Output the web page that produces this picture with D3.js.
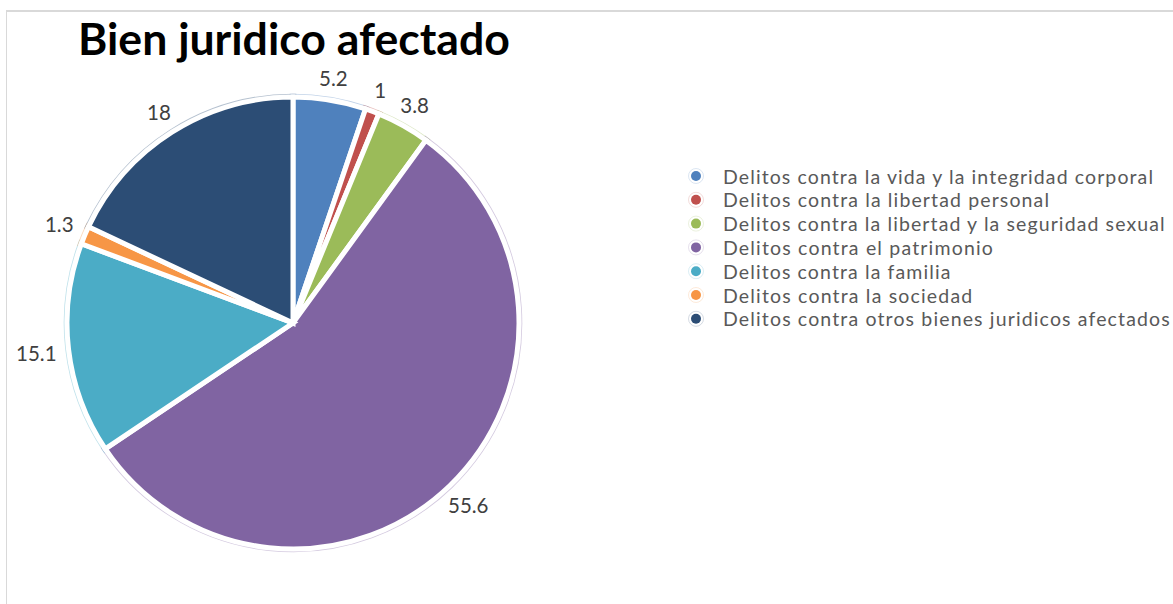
<!DOCTYPE html>
<html><head><meta charset="utf-8">
<script src="https://cdn.jsdelivr.net/npm/d3@7"></script>
<style>body{margin:0;background:#fff}svg{display:block}</style>
</head><body>
<svg id="chart" width="1173" height="604"></svg>
<script>
const titleText = "Bien juridico afectado";
const categories = [
  "Delitos contra la vida y la integridad corporal",
  "Delitos contra la libertad personal",
  "Delitos contra la libertad y la seguridad sexual",
  "Delitos contra el patrimonio",
  "Delitos contra la familia",
  "Delitos contra la sociedad",
  "Delitos contra otros bienes juridicos afectados"
];
const values = [5.2, 1, 3.8, 55.6, 15.1, 1.3, 18];
const labels = ["5.2", "1", "3.8", "55.6", "15.1", "1.3", "18"];
const colors = ["#4F81BD", "#C0504D", "#9BBB59", "#8064A2", "#4BACC6", "#F79646", "#2C4D75"];

const svg = d3.select("#chart");
const W = 1173, H = 604;
const font = "Lato, 'Open Sans', sans-serif";

// frame
svg.append("line").attr("x1", 6).attr("x2", W).attr("y1", 11).attr("y2", 11)
  .attr("stroke", "#d9d9d9").attr("stroke-width", 2);
svg.append("line").attr("x1", 6.5).attr("x2", 6.5).attr("y1", 11).attr("y2", H)
  .attr("stroke", "#d9d9d9").attr("stroke-width", 1);

// title
const title = svg.append("text").text(titleText)
  .attr("x", 78).attr("y", 55)
  .attr("font-family", font).attr("font-weight", "bold")
  .attr("font-size", 40).attr("fill", "#000");
{
  const w = title.node().getComputedTextLength();
  title.attr("font-size", 40 * 432 / w);
}

// pie
const cx = 293, cy = 323, R = 226;
const pie = d3.pie().sort(null).value(d => d)(values);
const arc = d3.arc().innerRadius(0).outerRadius(R);
const g = svg.append("g").attr("transform", `translate(${cx},${cy})`);

g.selectAll("path.halo").data(pie).join("path").attr("class", "halo")
  .attr("d", arc).attr("fill", "none")
  .attr("stroke", (d, i) => colors[i]).attr("stroke-opacity", 0.35)
  .attr("stroke-width", 6.6).attr("stroke-linejoin", "miter");
g.selectAll("path.slice").data(pie).join("path").attr("class", "slice")
  .attr("d", arc).attr("fill", (d, i) => colors[i])
  .attr("stroke", "#fff").attr("stroke-width", 5).attr("stroke-linejoin", "miter");

// data labels (outside end)
const gap = 10;
pie.forEach((d, i) => {
  const t = g.append("text").text(labels[i])
    .attr("font-family", font).attr("font-size", 20.5)
    .attr("fill", "#404040").attr("text-anchor", "middle")
    .attr("dominant-baseline", "central");
  const bb = t.node().getBBox();
  const w = bb.width + 4, h = bb.height;
  const a = (d.startAngle + d.endAngle) / 2;
  const s = Math.abs(Math.sin(a)), c = Math.abs(Math.cos(a));
  const ext = Math.min(s > 1e-6 ? (w / 2) / s : Infinity, c > 1e-6 ? (h / 2) / c : Infinity);
  const r = R + gap + ext;
  t.attr("x", Math.sin(a) * r).attr("y", -Math.cos(a) * r);
});

// legend
const lx = 696, ly = 176, lstep = 23.8;
const lg = svg.append("g");
const items = lg.selectAll("g").data(categories).join("g")
  .attr("transform", (d, i) => `translate(${lx},${ly + i * lstep})`);
items.append("circle").attr("r", 7.5).attr("fill", "#fff")
  .attr("stroke", (d, i) => colors[i]).attr("stroke-opacity", 0.25).attr("stroke-width", 0.8);
items.append("circle").attr("r", 5).attr("fill", (d, i) => colors[i]);
const lfs = 19.5;
const ltexts = items.append("text").text(d => d)
  .attr("x", 27).attr("y", 0).attr("dominant-baseline", "central")
  .attr("font-family", font).attr("font-size", lfs).attr("fill", "#595959");
{
  const widths = ltexts.nodes().map(n => n.getComputedTextLength());
  const k = 430 / widths[0];
  ltexts.each(function(d, i) {
    d3.select(this).attr("textLength", widths[i] * k).attr("lengthAdjust", "spacing");
  });
}
</script>
</body></html>
